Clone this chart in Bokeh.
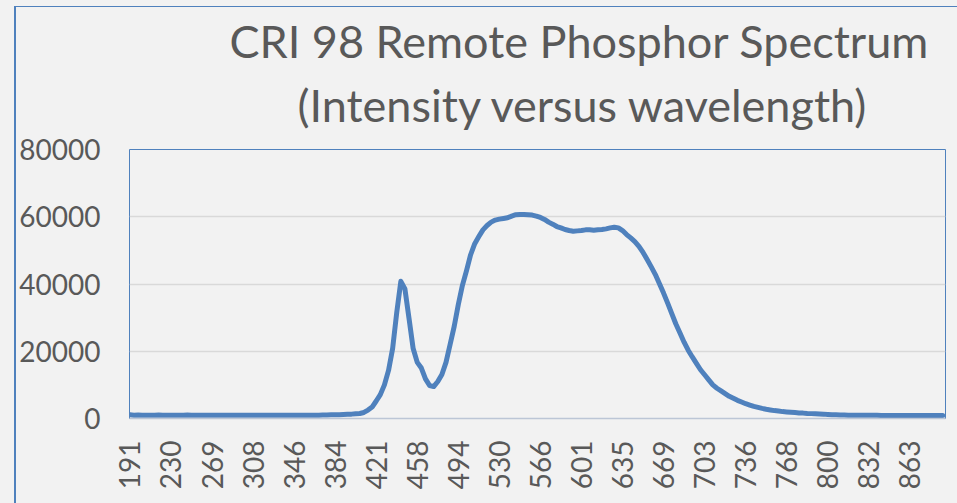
import math
from bokeh.plotting import figure
from bokeh.models import Range1d, FixedTicker, Title
from bokeh.embed import file_html
from bokeh.resources import INLINE

title_line1 = "CRI 98 Remote Phosphor Spectrum"
title_line2 = "(Intensity versus wavelength)"

wavelength_labels = ["191", "230", "269", "308", "346", "384", "421", "458", "494", "530",
                     "566", "601", "635", "669", "703", "736", "768", "800", "832", "863"]
points_per_label = 10
y_ticks = [0, 20000, 40000, 60000, 80000]

intensity = [
    # 0-54 baseline
    1100, 1000, 1050, 1000, 950, 1000, 1000, 1050, 1000, 1000,
    950, 1000, 1000, 1000, 1050, 1000, 1000, 1000, 950, 1000,
    1000, 1000, 1000, 950, 1000, 1000, 1000, 1000, 1000, 950,
    1000, 1000, 1000, 1000, 1000, 1000, 1000, 1000, 1000, 1000,
    1000, 1000, 1000, 1000, 1000, 1000, 1000, 1050, 1050, 1100,
    1100, 1150, 1200, 1250, 1300,
    # 55-69 blue peak
    1400, 1500, 1800, 2500, 3400, 5200, 7100, 10000, 14300, 20800,
    31500, 40800, 38500, 29700, 20800,
    # 70-89 valley and rise
    16700, 15000, 11800, 9800, 9500, 11000, 13100, 16700, 22000, 27400,
    33900, 39600, 44000, 48700, 52000, 54100, 56100, 57400, 58400, 59000,
    # 90-119 phosphor plateau
    59300, 59500, 59700, 60200, 60600, 60700, 60700, 60600, 60500, 60200,
    59800, 59200, 58400, 57800, 57100, 56700, 56200, 55900, 55700, 55800,
    55900, 56100, 56100, 56000, 56100, 56200, 56400, 56700, 56900, 56700,
    # 120-141 red fall
    55900, 54700, 53700, 52600, 51200, 49400, 47300, 45100, 42800, 40100,
    37300, 34300, 31200, 28100, 25400, 22700, 20300, 18300, 16400, 14500,
    13000, 11500,
    # 142-198 tail
    10000, 9000, 8200, 7400, 6600, 6000, 5400, 4900, 4400, 4000,
    3600, 3300, 3000, 2750, 2550, 2350, 2200, 2050, 1950, 1850,
    1750, 1650, 1600, 1500, 1450, 1400, 1350, 1300, 1200, 1100,
    1100, 1050, 1050, 1000, 1000, 1000, 1000, 950, 950, 950,
    950, 900, 900, 900, 900, 900, 900, 900, 900, 900,
    900, 900, 900, 900, 900, 900, 900,
]
sample_index = list(range(len(intensity)))

TEXT = "#595959"
BLUE = "#4f81bd"
BG = "#f2f2f2"

p = figure(width=957, height=503, output_backend="svg", toolbar_location=None,
           x_range=Range1d(-0.1, 198.68), y_range=Range1d(0, 80000),
           min_border_left=129, min_border_right=12, min_border_top=149, min_border_bottom=85,
           background_fill_color=BG, border_fill_color=BG)
p.outline_line_color = BLUE
p.outline_line_width = 1

p.line(sample_index, intensity, line_color=BLUE, line_width=5, line_join="round", line_cap="round")

tick_pos = [i * points_per_label for i in range(len(wavelength_labels))]
p.xaxis.ticker = FixedTicker(ticks=tick_pos)
p.xaxis.major_label_overrides = {t: lab for t, lab in zip(tick_pos, wavelength_labels)}
p.xaxis.major_label_orientation = math.pi / 2
p.xaxis.major_label_standoff = 16
p.xaxis.axis_line_color = "#bcc6d6"
p.xaxis.axis_line_width = 1.5

p.yaxis.ticker = FixedTicker(ticks=y_ticks)
p.yaxis.major_label_standoff = 23
p.yaxis.axis_line_color = None

for ax in (p.xaxis, p.yaxis):
    ax.major_tick_line_color = None
    ax.minor_tick_line_color = None
    ax.major_label_text_font = "Lato"
    ax.major_label_text_font_size = "28px"
    ax.major_label_text_color = TEXT

p.xgrid.visible = False
p.ygrid.ticker = FixedTicker(ticks=y_ticks)
p.ygrid.grid_line_color = "#d9d9d9"
p.ygrid.grid_line_width = 1.5

# outermost title line (first line)
p.title.text = title_line1
p.title.align = "left"
p.title.offset = 100
p.title.text_font = "Lato"
p.title.text_font_size = "45px"
p.title.text_font_style = "normal"
p.title.text_color = TEXT
p.title.standoff = 5
# small gap between the second title line and the plot area (closest to the plot)
p.add_layout(Title(text=" ", text_font_size="1px", standoff=10, text_color=BG), "above")
# second line, just above the gap
p.add_layout(Title(text=title_line2, align="left", offset=168, text_font="Lato",
                   text_font_size="45px", text_font_style="normal", text_color=TEXT,
                   standoff=10), "above")

html = file_html(p, INLINE)
border = ('<div style="position:absolute;left:14px;top:6px;right:0;bottom:0;'
          'border-left:2px solid #4f81bd;border-top:1.5px solid #4f81bd;'
          'pointer-events:none;z-index:10;"></div>')
html = html.replace("</body>", border + "</body>")
html = html.replace("<body>", '<body style="background:#f2f2f2;">')
open("out.html", "w").write(html)
